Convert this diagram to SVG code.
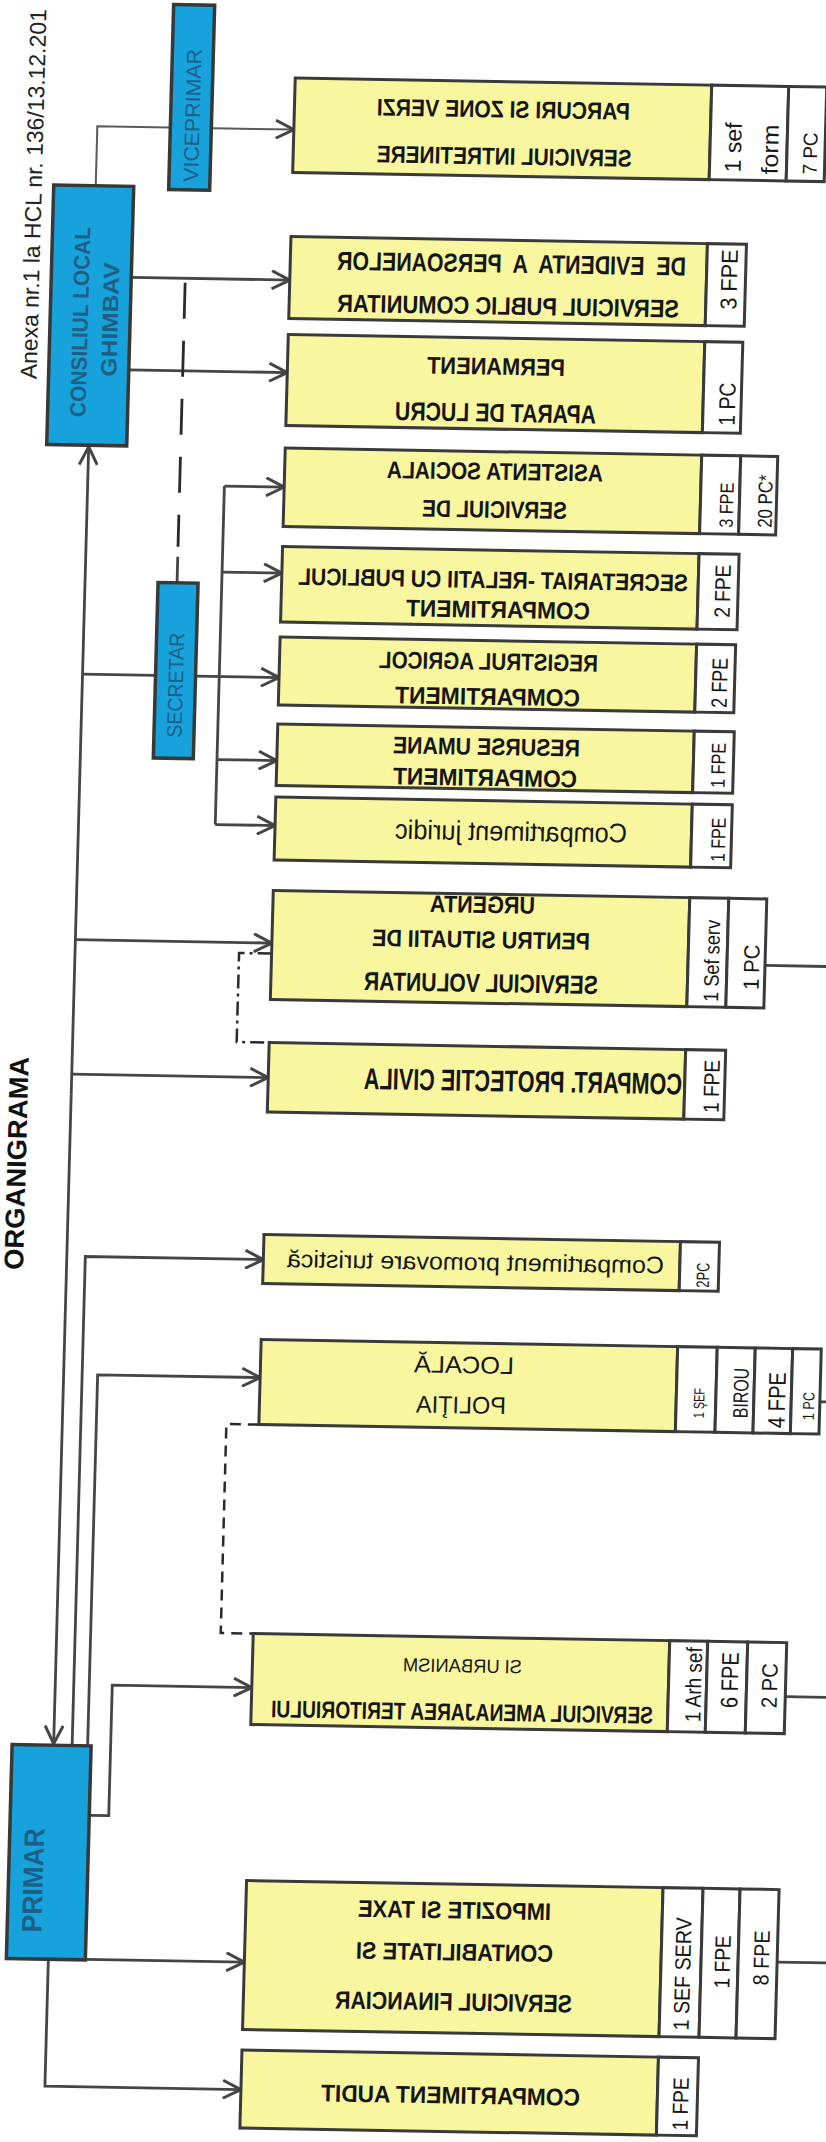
<svg xmlns="http://www.w3.org/2000/svg" width="826" height="2142" viewBox="0 0 826 2142">
<defs>
<style>
.y{fill:#f8f69e;stroke:#3a3a3a;stroke-width:3}
.c{fill:#ffffff;stroke:#3a3a3a;stroke-width:3}
.b{fill:#17a2dc;stroke:#383838;stroke-width:3.5}
text{font-family:"Liberation Sans",Arial,sans-serif}
.m{font-size:24px;font-weight:bold;fill:#161616;text-anchor:middle}
.r{font-size:24px;fill:#161616;text-anchor:middle}
.k{font-size:22px;fill:#161616;text-anchor:middle}
.bt{fill:#1e5f85;text-anchor:middle}
.ln{fill:none;stroke:#454545;stroke-width:2.8}
.th{fill:none;stroke:#5a5a5a;stroke-width:2}
.d1{fill:none;stroke:#2a2a2a;stroke-width:2.8;stroke-dasharray:36 22}
.d2{fill:none;stroke:#2a2a2a;stroke-width:2.5;stroke-dasharray:14 5 3 5}
.d3{fill:none;stroke:#2a2a2a;stroke-width:2.5;stroke-dasharray:11 7}
</style>
<marker id="ar" viewBox="0 0 20 20" refX="19" refY="10" markerWidth="20" markerHeight="20" markerUnits="userSpaceOnUse" orient="auto">
<path d="M1,1 L19,10 L1,19" fill="none" stroke="#454545" stroke-width="3"/>
</marker>
</defs>
<rect x="0" y="0" width="826" height="2142" fill="#ffffff"/>
<g transform="matrix(1 0.017 -0.027 1 28.9 -7)">

<g id="titles">
<text transform="matrix(0 -1 1 0 18 386)" style="font-size:23px;fill:#222" textLength="370" lengthAdjust="spacingAndGlyphs">Anexa nr.1 la HCL nr. 136/13.12.201</text>
<text transform="matrix(0 -1 1 0 28.5 1170)" style="font-size:27px;font-weight:bold;fill:#111;text-anchor:middle" textLength="213" lengthAdjust="spacingAndGlyphs">ORGANIGRAMA</text>
</g>

<g id="connectors">
<path class="th" d="M72,191 V132 H268.5" marker-end="url(#ar)"/>
<path class="ln" d="M110,282.5 H268.5" marker-end="url(#ar)"/>
<path class="ln" d="M110,375 H268.5" marker-end="url(#ar)"/>
<path class="ln" d="M72,1100 V452.5" marker-end="url(#ar)"/>
<path class="ln" d="M72,1100 V1749.5" marker-end="url(#ar)"/>
<path class="ln" d="M72,680 H145"/>
<path class="ln" d="M185,680 H268.5" marker-end="url(#ar)"/>
<path class="ln" d="M208.7,489.5 V828"/>
<path class="ln" d="M208.7,489.5 H268.5" marker-end="url(#ar)"/>
<path class="ln" d="M208.7,575.5 H268.5" marker-end="url(#ar)"/>
<path class="ln" d="M208.7,763 H268.5" marker-end="url(#ar)"/>
<path class="ln" d="M208.7,828 H268.5" marker-end="url(#ar)"/>
<path class="ln" d="M72,945.5 H268.5" marker-end="url(#ar)"/>
<path class="ln" d="M72,1080 H268.5" marker-end="url(#ar)"/>
<path class="ln" d="M90.5,1751 V1262 H268.5" marker-end="url(#ar)"/>
<path class="ln" d="M106,1751 V1380 H268.5" marker-end="url(#ar)"/>
<path class="ln" d="M110,1820.5 H129 V1690 H268.5" marker-end="url(#ar)"/>
<path class="ln" d="M110,1964.5 H268.5" marker-end="url(#ar)"/>
<path class="ln" d="M72.5,1965 V2092 H268.5" marker-end="url(#ar)"/>
<path class="d1" d="M164,287 V551"/>
<path class="ln" d="M164,561 V587"/>
<path class="d2" d="M268.5,956 H236 V1045 H268.5"/>
<path class="d3" d="M268.5,1427 H236 V1636 H268.5"/>
<path class="ln" d="M762,959.5 H870"/>
<path class="ln" d="M828.6,1394.7 H870"/>
<path class="ln" d="M802,1690 H870"/>
<path class="ln" d="M801,1955.5 H870"/>
</g>

<g id="n-consiliul">
<rect class="b" x="30" y="191.5" width="80" height="259.5"/>
<text class="bt" transform="matrix(0 -1 1 0 67.8 328)" style="font-size:22px;font-weight:bold" textLength="190" lengthAdjust="spacingAndGlyphs">CONSILIUL LOCAL</text>
<text class="bt" transform="matrix(0 -1 1 0 97.7 325)" style="font-size:22px;font-weight:bold" textLength="114" lengthAdjust="spacingAndGlyphs">GHIMBAV</text>
</g>

<g id="n-viceprimar">
<rect class="b" x="145" y="9" width="41" height="185"/>
<text class="bt" transform="matrix(0 -1 1 0 174.2 119.6)" style="font-size:21px" textLength="133" lengthAdjust="spacingAndGlyphs">VICEPRIMAR</text>
</g>

<g id="n-secretar">
<rect class="b" x="145" y="587" width="40" height="175.5"/>
<text class="bt" transform="matrix(0 -1 1 0 172.6 689.4)" style="font-size:21px" textLength="105" lengthAdjust="spacingAndGlyphs">SECRETAR</text>
</g>

<g id="n-primar">
<rect class="b" x="30.5" y="1751" width="79" height="214"/>
<text class="bt" transform="matrix(0 -1 1 0 64.8 1886.3)" style="font-size:28px;font-weight:bold" textLength="104" lengthAdjust="spacingAndGlyphs">PRIMAR</text>
</g>

<g id="n-intretinere">
<rect class="y" x="268.5" y="80.5" width="416.5" height="94.5"/>
<rect class="c" x="685" y="80.5" width="77" height="94.5"/>
<rect class="c" x="762" y="80.5" width="38" height="94.5"/>
<text class="m" transform="matrix(-1 0 0 1 477.5 116.5)" textLength="253" lengthAdjust="spacingAndGlyphs">PARCURI SI ZONE VERZI</text>
<text class="m" transform="matrix(-1 0 0 1 479.5 163.4)" textLength="255" lengthAdjust="spacingAndGlyphs">SERVICIUL INTRETINERE</text>
<text class="k" transform="matrix(0 -1 1 0 716.1 142.4)" style="font-size:23px" textLength="50" lengthAdjust="spacingAndGlyphs">1 sef</text>
<text class="k" transform="matrix(0 -1 1 0 753.1 143.8)" style="font-size:23px" textLength="50" lengthAdjust="spacingAndGlyphs">form</text>
<text class="k" transform="matrix(0 -1 1 0 792.2 147.1)" style="font-size:20px" textLength="42" lengthAdjust="spacingAndGlyphs">7 PC</text>
</g>

<g id="n-evidenta">
<rect class="y" x="268.5" y="239" width="416.5" height="82"/>
<rect class="c" x="685" y="239" width="39" height="82"/>
<text class="m" xml:space="preserve" transform="matrix(-1 0 0 1 489.7 271.3)" style="font-size:26px" textLength="349" lengthAdjust="spacingAndGlyphs">DE  EVIDENTA  A  PERSOANELOR</text>
<text class="m" transform="matrix(-1 0 0 1 487.4 313.4)" style="font-size:25px" textLength="342" lengthAdjust="spacingAndGlyphs">SERVICIUL PUBLIC COMUNITAR</text>
<text class="k" transform="matrix(0 -1 1 0 715.6 274.5)" style="font-size:23px" textLength="60" lengthAdjust="spacingAndGlyphs">3 FPE</text>
</g>

<g id="n-aparat">
<rect class="y" x="268.5" y="337" width="416.5" height="91"/>
<rect class="c" x="685" y="337" width="38" height="91"/>
<text class="m" transform="matrix(-1 0 0 1 477 373.6)" textLength="138" lengthAdjust="spacingAndGlyphs">PERMANENT</text>
<text class="m" transform="matrix(-1 0 0 1 477.7 420.6)" style="font-size:26px" textLength="201" lengthAdjust="spacingAndGlyphs">APARAT DE LUCRU</text>
<text class="k" transform="matrix(0 -1 1 0 717 399)" style="font-size:23px" textLength="43" lengthAdjust="spacingAndGlyphs">1 PC</text>
</g>

<g id="n-asistenta">
<rect class="y" x="268.5" y="450.5" width="416.5" height="78.5"/>
<rect class="c" x="685" y="450.5" width="39" height="78.5"/>
<rect class="c" x="724" y="450.5" width="37" height="78.5"/>
<text class="m" transform="matrix(-1 0 0 1 478.8 478.6)" textLength="216" lengthAdjust="spacingAndGlyphs">ASISTENTA SOCIALA</text>
<text class="m" transform="matrix(-1 0 0 1 479.3 516.6)" textLength="145" lengthAdjust="spacingAndGlyphs">SERVICIUL DE</text>
<text class="k" transform="matrix(0 -1 1 0 717.7 500.1)" style="font-size:19px" textLength="45" lengthAdjust="spacingAndGlyphs">3 FPE</text>
<text class="k" transform="matrix(0 -1 1 0 756.6 495.4)" style="font-size:20px" textLength="53" lengthAdjust="spacingAndGlyphs">20 PC*</text>
</g>

<g id="n-secretariat">
<rect class="y" x="268.5" y="549" width="416.5" height="75.5"/>
<rect class="c" x="685" y="549" width="40" height="75.5"/>
<text class="m" transform="matrix(-1 0 0 1 479.7 586.9)" textLength="390" lengthAdjust="spacingAndGlyphs">SECRETARIAT -RELATII CU PUBLICUL</text>
<text class="m" transform="matrix(-1 0 0 1 485.5 616.6)" textLength="184" lengthAdjust="spacingAndGlyphs">COMPARTIMENT</text>
<text class="k" transform="matrix(0 -1 1 0 717.1 586.1)" textLength="53" lengthAdjust="spacingAndGlyphs">2 FPE</text>
</g>

<g id="n-registrul">
<rect class="y" x="268.5" y="639.5" width="416.5" height="68"/>
<rect class="c" x="685" y="639.5" width="39" height="68"/>
<text class="m" transform="matrix(-1 0 0 1 477.4 668.7)" textLength="219" lengthAdjust="spacingAndGlyphs">REGISTRUL AGRICOL</text>
<text class="m" transform="matrix(-1 0 0 1 477.4 703.7)" textLength="185" lengthAdjust="spacingAndGlyphs">COMPARTIMENT</text>
<text class="k" transform="matrix(0 -1 1 0 716.5 677.7)" textLength="50" lengthAdjust="spacingAndGlyphs">2 FPE</text>
</g>

<g id="n-resurse">
<rect class="y" x="268.5" y="726.5" width="416.5" height="61.5"/>
<rect class="c" x="685" y="726.5" width="40" height="61.5"/>
<text class="m" transform="matrix(-1 0 0 1 477.7 753.8)" textLength="187" lengthAdjust="spacingAndGlyphs">RESURSE UMANE</text>
<text class="m" transform="matrix(-1 0 0 1 477.1 784.8)" textLength="184" lengthAdjust="spacingAndGlyphs">COMPARTIMENT</text>
<text class="k" transform="matrix(0 -1 1 0 716.8 760.2)" style="font-size:20px" textLength="45" lengthAdjust="spacingAndGlyphs">1 FPE</text>
</g>

<g id="n-juridic">
<rect class="y" x="268.5" y="799.5" width="416.5" height="63"/>
<rect class="c" x="685" y="799.5" width="40" height="63"/>
<text class="r" transform="matrix(-1 0 0 1 504.6 839)" style="font-size:27px" textLength="232" lengthAdjust="spacingAndGlyphs">Compartiment juridic</text>
<text class="k" transform="matrix(0 -1 1 0 718.8 834.7)" style="font-size:20px" textLength="44" lengthAdjust="spacingAndGlyphs">1 FPE</text>
</g>

<g id="n-voluntar">
<rect class="y" x="268.5" y="893" width="416.5" height="109"/>
<rect class="c" x="685" y="893" width="39" height="109"/>
<rect class="c" x="724" y="893" width="38" height="109"/>
<text class="m" transform="matrix(-1 0 0 1 478 911.8)" textLength="105" lengthAdjust="spacingAndGlyphs">URGENTA</text>
<text class="m" transform="matrix(-1 0 0 1 477.5 946.8)" textLength="218" lengthAdjust="spacingAndGlyphs">PENTRU SITUATII DE</text>
<text class="m" transform="matrix(-1 0 0 1 478.6 990.8)" style="font-size:26px" textLength="234" lengthAdjust="spacingAndGlyphs">SERVICIUL VOLUNTAR</text>
<text class="k" transform="matrix(0 -1 1 0 716 955.8)" style="font-size:21px" textLength="82" lengthAdjust="spacingAndGlyphs">1 Sef serv</text>
<text class="k" transform="matrix(0 -1 1 0 756.2 961.6)" textLength="45" lengthAdjust="spacingAndGlyphs">1 PC</text>
</g>

<g id="n-protectie">
<rect class="y" x="268.5" y="1045" width="416.5" height="69.5"/>
<rect class="c" x="685" y="1045" width="40" height="69.5"/>
<text class="m" transform="matrix(-1 0 0 1 523.2 1089.8)" style="font-size:30px" textLength="318" lengthAdjust="spacingAndGlyphs">COMPART. PROTECTIE CIVILA</text>
<text class="k" transform="matrix(0 -1 1 0 719.4 1081.3)" textLength="53" lengthAdjust="spacingAndGlyphs">1 FPE</text>
</g>

<g id="n-promovare">
<rect class="y" x="268.5" y="1237" width="416.5" height="49"/>
<rect class="c" x="685" y="1237" width="39" height="49"/>
<text class="r" transform="matrix(-1 0 0 1 480.7 1269)" textLength="377" lengthAdjust="spacingAndGlyphs">Compartiment promovare turistică</text>
<text class="k" transform="matrix(0 -1 1 0 714.5 1270)" style="font-size:18px" textLength="25" lengthAdjust="spacingAndGlyphs">2PC</text>
</g>

<g id="n-politia">
<rect class="y" x="268.5" y="1342" width="416.5" height="85"/>
<rect class="c" x="685" y="1342" width="39.6" height="85"/>
<rect class="c" x="724.6" y="1342" width="38" height="85"/>
<rect class="c" x="762.6" y="1342" width="37.4" height="85"/>
<rect class="c" x="800" y="1342" width="28.6" height="85"/>
<text class="r" transform="matrix(-1 0 0 1 471.9 1372.1)" textLength="100" lengthAdjust="spacingAndGlyphs">LOCALĂ</text>
<text class="r" transform="matrix(-1 0 0 1 470 1412.2)" textLength="90" lengthAdjust="spacingAndGlyphs">POLIŢIA</text>
<text class="k" transform="matrix(0 -1 1 0 713 1398.1)" style="font-size:15px" textLength="30" lengthAdjust="spacingAndGlyphs">1 ŞEF</text>
<text class="k" transform="matrix(0 -1 1 0 756.7 1387.3)" style="font-size:21px" textLength="50" lengthAdjust="spacingAndGlyphs">BIROU</text>
<text class="k" transform="matrix(0 -1 1 0 793.9 1393.7)" style="font-size:24px" textLength="56" lengthAdjust="spacingAndGlyphs">4 FPE</text>
<text class="k" transform="matrix(0 -1 1 0 823 1399.2)" style="font-size:16px" textLength="28" lengthAdjust="spacingAndGlyphs">1 PC</text>
</g>

<g id="n-urbanism">
<rect class="y" x="268.5" y="1636" width="416.5" height="91"/>
<rect class="c" x="685" y="1636" width="38" height="91"/>
<rect class="c" x="723" y="1636" width="40" height="91"/>
<rect class="c" x="763" y="1636" width="39" height="91"/>
<text class="r" transform="matrix(-1 0 0 1 478.5 1671.2)" style="font-size:19px" textLength="119" lengthAdjust="spacingAndGlyphs">SI URBANISM</text>
<text class="m" transform="matrix(-1 0 0 1 479.3 1719.2)" textLength="382" lengthAdjust="spacingAndGlyphs">SERVICIUL AMENAJAREA TERITORIULUI</text>
<text class="k" transform="matrix(0 -1 1 0 717.6 1679.6)" textLength="75" lengthAdjust="spacingAndGlyphs">1 Arh sef</text>
<text class="k" transform="matrix(0 -1 1 0 754.4 1674.5)" style="font-size:24px" textLength="56" lengthAdjust="spacingAndGlyphs">6 FPE</text>
<text class="k" transform="matrix(0 -1 1 0 793.6 1679.3)" textLength="45" lengthAdjust="spacingAndGlyphs">2 PC</text>
</g>

<g id="n-financiar">
<rect class="y" x="268.5" y="1883" width="416.5" height="149"/>
<rect class="c" x="685" y="1883" width="40" height="149"/>
<rect class="c" x="725" y="1883" width="37" height="149"/>
<rect class="c" x="762" y="1883" width="39" height="149"/>
<text class="m" transform="matrix(-1 0 0 1 477.2 1917.3)" textLength="193" lengthAdjust="spacingAndGlyphs">IMPOZITE SI TAXE</text>
<text class="m" transform="matrix(-1 0 0 1 478.3 1959.3)" textLength="197" lengthAdjust="spacingAndGlyphs">CONTABILITATE SI</text>
<text class="m" transform="matrix(-1 0 0 1 478.6 2009.3)" style="font-size:25px" textLength="237" lengthAdjust="spacingAndGlyphs">SERVICIUL FINANCIAR</text>
<text class="k" transform="matrix(0 -1 1 0 714.4 1968.8)" textLength="113" lengthAdjust="spacingAndGlyphs">1 SEF SERV</text>
<text class="k" transform="matrix(0 -1 1 0 754 1956.1)" textLength="53" lengthAdjust="spacingAndGlyphs">1 FPE</text>
<text class="k" transform="matrix(0 -1 1 0 792.9 1951.5)" textLength="55" lengthAdjust="spacingAndGlyphs">8 FPE</text>
</g>

<g id="n-audit">
<rect class="y" x="268.5" y="2052.5" width="416.5" height="78"/>
<rect class="c" x="685" y="2052.5" width="40" height="78"/>
<text class="m" transform="matrix(-1 0 0 1 478.1 2102.4)" textLength="259" lengthAdjust="spacingAndGlyphs">COMPARTIMENT AUDIT</text>
<text class="k" transform="matrix(0 -1 1 0 715.9 2098.8)" textLength="53" lengthAdjust="spacingAndGlyphs">1 FPE</text>
</g>

</g>
</svg>
